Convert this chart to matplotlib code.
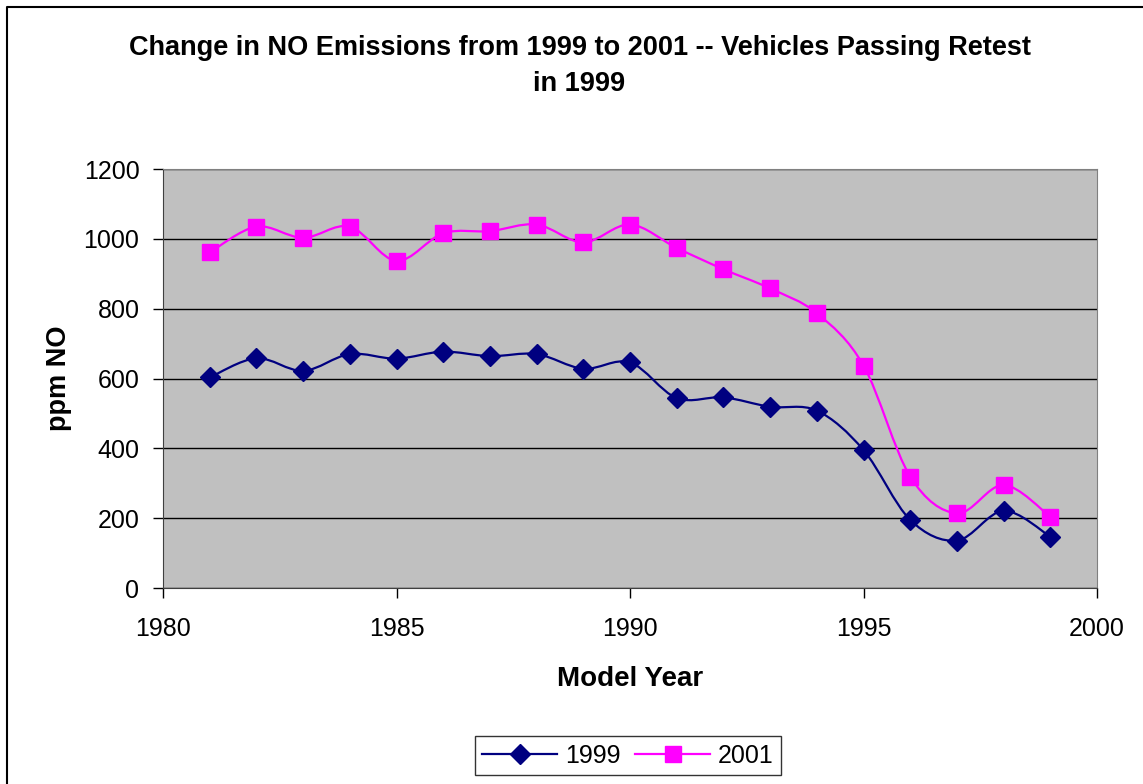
import numpy as np
import matplotlib.pyplot as plt
from matplotlib.path import Path
from matplotlib.patches import PathPatch
from matplotlib.lines import Line2D

plt.rcParams['font.family'] = ['Liberation Sans', 'DejaVu Sans']

# Data
years = [1981, 1982, 1983, 1984, 1985, 1986, 1987, 1988, 1989, 1990,
         1991, 1992, 1993, 1994, 1995, 1996, 1997, 1998, 1999]
no_1999 = [603, 658, 622, 670, 657, 677, 664, 670, 628, 646,
           544, 546, 519, 508, 395, 195, 136, 221, 147]
no_2001 = [961, 1035, 1003, 1035, 937, 1016, 1022, 1041, 990, 1041,
           974, 913, 858, 787, 637, 319, 214, 295, 204]


def smooth_path(x, y, t=1 / 6):
    # Excel-style smoothed line: Catmull-Rom segments as cubic Beziers
    pts = np.column_stack([np.asarray(x, float), np.asarray(y, float)])
    verts = [pts[0]]
    codes = [Path.MOVETO]
    n = len(pts)
    for i in range(n - 1):
        p0 = pts[i - 1] if i > 0 else pts[i]
        p1 = pts[i]
        p2 = pts[i + 1]
        p3 = pts[i + 2] if i + 2 < n else pts[i + 1]
        verts += [p1 + (p2 - p0) * t, p2 - (p3 - p1) * t, p2]
        codes += [Path.CURVE4] * 3
    return Path(verts, codes)


fig = plt.figure(figsize=(11.43, 7.84), dpi=100)
# chart area border (only left and top edges are visible in the picture)
fig.lines.append(Line2D([0.0065, 0.0065, 1.0], [0.0, 0.991, 0.991],
                        transform=fig.transFigure, color='black', linewidth=1.5))

ax = fig.add_axes([0.1426, 0.25, 0.8172, 0.5344])
ax.set_facecolor('#C0C0C0')

for ys, col, mk, ms, lab in [(no_1999, '#000080', 'D', 10.5, '1999'),
                             (no_2001, '#FF00FF', 's', 11.5, '2001')]:
    ax.add_patch(PathPatch(smooth_path(years, ys), fill=False, edgecolor=col,
                           linewidth=1.6, zorder=3))
    ax.plot(years, ys, linestyle='none', marker=mk, markersize=ms, color=col, zorder=4)
    ax.plot([], [], color=col, marker=mk, markersize=ms, linewidth=1.6, label=lab)

ax.set_xlim(1980, 2000)
ax.set_ylim(0, 1200)
ax.set_xticks(range(1980, 2001, 5))
ax.set_yticks(range(0, 1201, 200))
ax.yaxis.grid(True, color='black', linewidth=1)
ax.set_axisbelow(True)
ax.tick_params(direction='out', length=7, width=1, labelsize=18, colors='black')
ax.tick_params(axis='y', pad=10)
ax.tick_params(axis='x', pad=14)
for s in ['top', 'right']:
    ax.spines[s].set_color('#808080')
for s in ['left', 'bottom']:
    ax.spines[s].set_color('#404040')

ax.set_xlabel('Model Year', fontsize=20, fontweight='bold', labelpad=18)
ax.set_ylabel('ppm NO', fontsize=19.5, fontweight='bold', labelpad=8)

fig.text(0.507, 0.916, 'Change in NO Emissions from 1999 to 2001 -- Vehicles Passing Retest\nin 1999',
         ha='center', va='center', fontsize=19.5, fontweight='bold', linespacing=1.5)

leg = fig.legend(loc='center', bbox_to_anchor=(0.5495, 0.036), ncol=2, fontsize=18,
                 frameon=True, fancybox=False, edgecolor='black', handlelength=3,
                 columnspacing=0.6, handletextpad=0.3, borderpad=0.3)
leg.get_frame().set_linewidth(1)

fig.savefig('out.png', dpi=100)
